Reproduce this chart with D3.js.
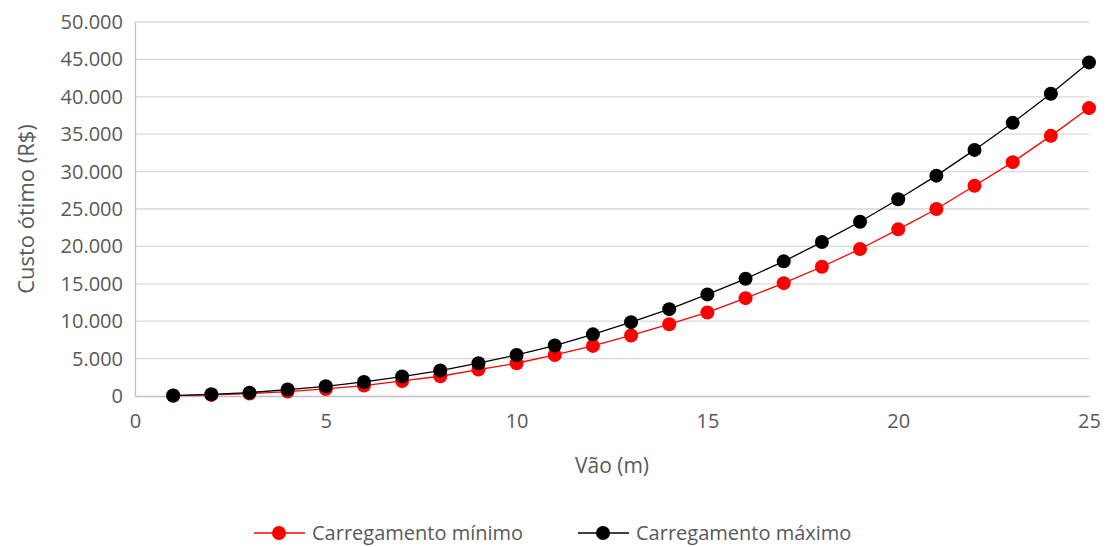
<!DOCTYPE html>
<html lang="pt-BR">
<head>
<meta charset="UTF-8">
<title>Custo ótimo x Vão</title>
<style>
    body, html { margin: 0; background: #fff; }
    svg { display: block; font-family: "Open Sans", sans-serif; }
    .tick text { fill: #595959; font-size: 20px; }
</style>
<script src="https://d3js.org/d3.v7.min.js"></script>
</head>
<body>
<div id="chart"></div>
<script>
const vaos = [1, 2, 3, 4, 5, 6, 7, 8, 9, 10, 11, 12, 13, 14, 15, 16, 17, 18, 19, 20, 21, 22, 23, 24, 25];
const cargaMinima = [40, 150, 320, 590, 940, 1390, 2010, 2640, 3530, 4380, 5490, 6700, 8090, 9600, 11170, 13080, 15090, 17280, 19650, 22280, 25000, 28100, 31260, 34780, 38490];
const cargaMaxima = [60, 230, 450, 860, 1300, 1880, 2600, 3400, 4380, 5490, 6750, 8240, 9870, 11610, 13580, 15670, 18000, 20580, 23300, 26300, 29460, 32900, 36520, 40400, 44600];
const yTicks = [0, 5000, 10000, 15000, 20000, 25000, 30000, 35000, 40000, 45000, 50000];
const xTicks = [0, 5, 10, 15, 20, 25];

const width = 1106, height = 547;
const margin = {left: 135, right: 17, top: 22, bottom: 151};

const svg = d3.select("#chart").append("svg")
    .attr("width", width)
    .attr("height", height);

const x = d3.scaleLinear().domain([0, 25]).range([margin.left, width - margin.right]);
const y = d3.scaleLinear().domain([0, 50000]).range([height - margin.bottom, margin.top]);

const fmt = v => d3.format(",")(v).replace(/,/g, ".");

// grade horizontal
svg.append("g")
    .selectAll("line")
    .data(yTicks.slice(1))
    .enter().append("line")
    .attr("x1", x(0)).attr("x2", x(25))
    .attr("y1", d => y(d)).attr("y2", d => y(d))
    .attr("stroke", "#d9d9d9")
    .attr("stroke-width", 1.3);

// eixos
const yAxis = svg.append("g")
    .attr("transform", `translate(${x(0)},0)`)
    .call(d3.axisLeft(y).tickValues(yTicks).tickFormat(fmt).tickSize(0).tickPadding(12));
yAxis.select(".domain").attr("stroke", "#bfbfbf").attr("stroke-width", 1.3);

const xAxis = svg.append("g")
    .attr("transform", `translate(0,${y(0)})`)
    .call(d3.axisBottom(x).tickValues(xTicks).tickSize(0).tickPadding(18));
xAxis.select(".domain").attr("stroke", "#bfbfbf").attr("stroke-width", 1.3);

svg.selectAll(".tick text").attr("font-family", "Open Sans, sans-serif");

// títulos
svg.append("text")
    .attr("transform", `translate(34,${(y(0) + y(50000)) / 2}) rotate(-90)`)
    .attr("text-anchor", "middle")
    .attr("fill", "#595959")
    .style("font-size", "22px")
    .text("Custo ótimo (R$)");

svg.append("text")
    .attr("x", (x(0) + x(25)) / 2)
    .attr("y", 473)
    .attr("text-anchor", "middle")
    .attr("fill", "#595959")
    .style("font-size", "21px")
    .text("Vão (m)");

// séries
const series = [
    {name: "Carregamento mínimo", values: cargaMinima, color: "#ff0000"},
    {name: "Carregamento máximo", values: cargaMaxima, color: "#000000"}
];

const line = d3.line()
    .x((d, i) => x(vaos[i]))
    .y(d => y(d));

series.forEach(s => {
    svg.append("path")
        .datum(s.values)
        .attr("fill", "none")
        .attr("stroke", s.color)
        .attr("stroke-width", 1.3)
        .attr("d", line);

    svg.append("g")
        .selectAll("circle")
        .data(s.values)
        .enter().append("circle")
        .attr("cx", (d, i) => x(vaos[i]))
        .attr("cy", d => y(d))
        .attr("r", 7)
        .attr("fill", s.color);
});

// legenda
const legendY = 533;
const legendX = [254, 578];
series.forEach((s, i) => {
    const g = svg.append("g").attr("transform", `translate(${legendX[i]},${legendY})`);
    g.append("line")
        .attr("x1", 0).attr("x2", 51)
        .attr("y1", 0).attr("y2", 0)
        .attr("stroke", s.color)
        .attr("stroke-width", 1.3);
    g.append("circle")
        .attr("cx", 25).attr("cy", 0).attr("r", 7)
        .attr("fill", s.color);
    g.append("text")
        .attr("x", 58).attr("y", 0)
        .attr("dy", "0.35em")
        .attr("fill", "#595959")
        .style("font-size", "20px")
        .text(s.name);
});
</script>
</body>
</html>
